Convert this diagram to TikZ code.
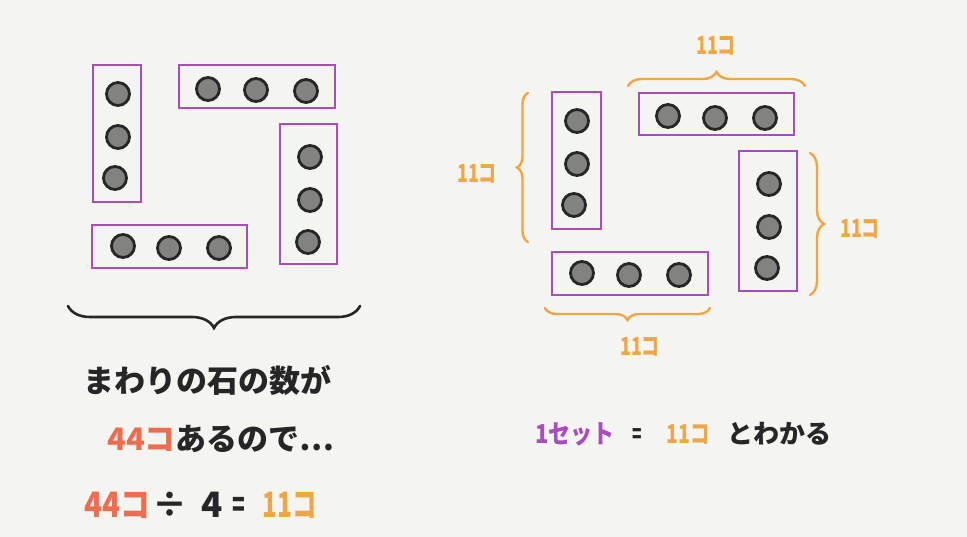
\documentclass[tikz,border=0pt]{standalone}
\usepackage{fontspec}
\newfontfamily\jp{Noto Sans CJK JP}
\usetikzlibrary{decorations.pathreplacing}
\definecolor{bg}{RGB}{244,244,240}
\definecolor{pur}{RGB}{170,75,190}
\definecolor{org}{RGB}{240,165,70}
\definecolor{redo}{RGB}{238,108,80}
\definecolor{stonec}{RGB}{130,130,128}
\definecolor{ink}{RGB}{38,38,38}
\begin{document}
\begin{tikzpicture}[x=1pt,y=-1pt,
  box/.style={draw=pur,line width=2.6pt,rectangle,inner sep=0pt},
  stone/.style={circle,draw=ink,fill=stonec,line width=2.8pt,minimum size=23pt,inner sep=0pt},
  bigtxt/.style={font=\jp\bfseries\fontsize{31}{34}\selectfont,inner sep=0pt,text=ink,anchor=base},
  hugetxt/.style={font=\jp\bfseries\fontsize{35}{38}\selectfont,inner sep=0pt,text=ink,anchor=base},
  midtxt/.style={font=\jp\bfseries\fontsize{26}{30}\selectfont,inner sep=0pt,text=ink,anchor=base},
  lbl/.style={font=\jp\bfseries\fontsize{25}{28}\selectfont,inner sep=0pt,text=org},
  bracek/.style={draw=ink,line width=2.6pt,line cap=round,decorate,decoration={brace,amplitude=#1}},
  braceo/.style={draw=org,line width=2.4pt,line cap=round,decorate,decoration={brace,amplitude=#1}}
]
\fill[bg] (0,0) rectangle (967,537);
\useasboundingbox (0,0) rectangle (967,537);

% ---------- left figure ----------
\node[box,minimum width=48pt,minimum height=137pt] (a1) at (117,133.5) {};
\node[box,minimum width=156pt,minimum height=43pt] (a2) at (257,86.5) {};
\node[box,minimum width=57pt,minimum height=140pt] (a3) at (308.5,194) {};
\node[box,minimum width=155pt,minimum height=43pt] (a4) at (169.5,246.5) {};

\node[stone] (a1s1) at (118,94) {};
\node[stone] (a1s2) at (118,137) {};
\node[stone] (a1s3) at (115,178) {};
\node[stone] (a2s1) at (208,89) {};
\node[stone] (a2s2) at (256,90) {};
\node[stone] (a2s3) at (306,91) {};
\node[stone] (a3s1) at (310,157) {};
\node[stone] (a3s2) at (310,200) {};
\node[stone] (a3s3) at (308,242) {};
\node[stone] (a4s1) at (123,246) {};
\node[stone] (a4s2) at (169,248) {};
\node[stone] (a4s3) at (219,248) {};

\coordinate (lbA) at (360,306);
\coordinate (lbB) at (68,306);
\draw[bracek=22pt] (lbA) -- (lbB);

\node[bigtxt] (t1) at (207,392) {まわりの石の数が};
\node[bigtxt,anchor=base west] (t2) at (107,450) {{\color{redo}44コ}あるので…};
\node[hugetxt,text=redo] (t3a) at (117,517) {\scalebox{0.85}[1]{44コ}};
\node[hugetxt] (t3b) at (170,517) {÷};
\node[hugetxt] (t3c) at (212,517) {4};
\node[hugetxt] (t3d) at (239,517) {\scalebox{0.6}[1]{=}};
\node[hugetxt,text=org] (t3e) at (290,517) {\scalebox{0.7}[1]{11コ}};

% ---------- right figure ----------
\node[box,minimum width=49pt,minimum height=137pt] (b1) at (576.5,160.5) {};
\node[box,minimum width=155pt,minimum height=42pt] (b2) at (716.5,114) {};
\node[box,minimum width=58pt,minimum height=140pt] (b3) at (768,221) {};
\node[box,minimum width=156pt,minimum height=43pt] (b4) at (630,273.5) {};

\node[stone] (b1s1) at (577,121) {};
\node[stone] (b1s2) at (577,164) {};
\node[stone] (b1s3) at (574,205) {};
\node[stone] (b2s1) at (668,116) {};
\node[stone] (b2s2) at (715,118) {};
\node[stone] (b2s3) at (765,118) {};
\node[stone] (b3s1) at (769,184) {};
\node[stone] (b3s2) at (769,227) {};
\node[stone] (b3s3) at (767,268) {};
\node[stone] (b4s1) at (582,273) {};
\node[stone] (b4s2) at (629,275) {};
\node[stone] (b4s3) at (679,275) {};

\coordinate (tbA) at (628,86);
\coordinate (tbB) at (805,86);
\draw[braceo=14pt] (tbA) -- (tbB);
\coordinate (lfA) at (528,242);
\coordinate (lfB) at (528,93);
\draw[braceo=11pt] (lfA) -- (lfB);
\coordinate (rtA) at (810,153);
\coordinate (rtB) at (810,295);
\draw[braceo=14pt] (rtA) -- (rtB);
\coordinate (btA) at (710,308);
\coordinate (btB) at (545,308);
\draw[braceo=12pt] (btA) -- (btB);

\node[lbl] (l1) at (716,46) {\scalebox{0.72}[1]{11コ}};
\node[lbl] (l2) at (477,174) {\scalebox{0.72}[1]{11コ}};
\node[lbl] (l3) at (860,229) {\scalebox{0.72}[1]{11コ}};
\node[lbl] (l4) at (640,347) {\scalebox{0.72}[1]{11コ}};

\node[midtxt,text=pur] (r1) at (575,443) {\scalebox{0.85}[1]{1セット}};
\node[midtxt] (r2) at (637,443) {\scalebox{0.6}[1]{=}};
\node[midtxt,text=org] (r3) at (688,443) {\scalebox{0.75}[1]{11コ}};
\node[midtxt] (r4) at (779,443) {とわかる};
\end{tikzpicture}
\end{document}
